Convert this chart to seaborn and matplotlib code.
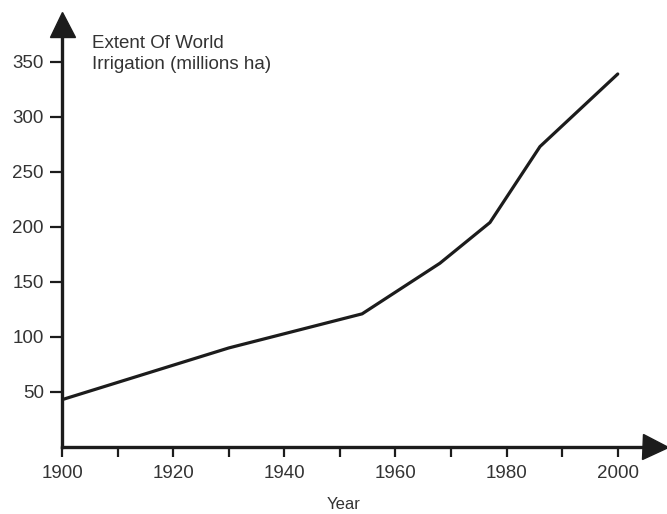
import seaborn as sns
from matplotlib import pyplot as plt

sns.set_style("ticks")
plt.rcParams["font.family"] = ["Liberation Sans", "DejaVu Sans"]

# values
years = [1900, 1930, 1954, 1968, 1977, 1986, 2000]
irrigation = [43, 90, 121, 167, 204, 273, 339]
year_ticks = [1900, 1920, 1940, 1960, 1980, 2000]
minor_year_ticks = [1910, 1930, 1950, 1970, 1990]
value_ticks = [50, 100, 150, 200, 250, 300, 350]

ink = "#1c1c1c"
text_col = "#333333"

fig = plt.figure(figsize=(6.67, 5.14), dpi=100)
ax = fig.add_axes([0.093, 0.1304, 0.889, 0.822])

sns.lineplot(x=years, y=irrigation, color=ink, linewidth=2.3, ax=ax)

ax.set_xlim(1900, 2006.7)
ax.set_ylim(0, 384)
sns.despine(ax=ax)
for side in ["left", "bottom"]:
    ax.spines[side].set_linewidth(2.4)
    ax.spines[side].set_color(ink)

# arrow heads at the ends of the axes
ax.plot(1, 0, ">", color=ink, markersize=18, transform=ax.transAxes, clip_on=False)
ax.plot(0, 1, "^", color=ink, markersize=18, transform=ax.transAxes, clip_on=False)

ax.set_xticks(year_ticks)
ax.set_xticks(minor_year_ticks, minor=True)
ax.set_yticks(value_ticks)
ax.tick_params(axis="x", which="both", direction="out", length=7, width=1.6,
               color=ink, pad=6, labelsize=13.5, labelcolor=text_col)
ax.tick_params(axis="y", direction="out", length=9, width=1.6,
               color=ink, pad=4, labelsize=13.5, labelcolor=text_col)

ax.set_xlabel("Year", fontsize=12, color=text_col)
ax.xaxis.set_label_coords(0.475, -0.118)
ax.set_ylabel("")

ax.text(1905.4, 357, "Extent Of World\nIrrigation (millions ha)",
        fontsize=13.5, color=text_col, va="center", ha="left", linespacing=1.3)

plt.savefig("out.png", dpi=100)
